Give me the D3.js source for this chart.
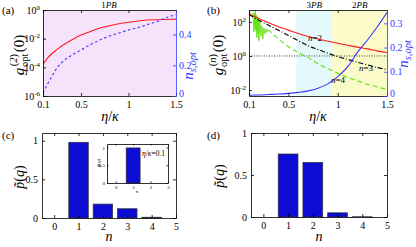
<!DOCTYPE html>
<html>
<head>
<meta charset="utf-8">
<script src="https://cdn.jsdelivr.net/npm/d3@7"></script>
<style>
body { margin: 0; background: #fff; }
svg { display: block; font-family: "Liberation Serif", "Times New Roman", serif; }
</style>
</head>
<body>
<script>
// ---- data ----
// panel (a)
var etaA = [0.1, 0.15, 0.2, 0.25, 0.3, 0.4, 0.5, 0.6, 0.7, 0.8, 0.9, 1.0, 1.1, 1.2, 1.3, 1.4, 1.5];
var g2A = [1.6e-4, 4.5e-4, 1e-3, 1.8e-3, 3.2e-3, 8e-3, 1.8e-2, 3.2e-2, 5.6e-2, 7.9e-2, 0.11, 0.14, 0.17, 0.2, 0.21, 0.22, 0.23];
var nsA = [0.02, 0.08, 0.135, 0.185, 0.22, 0.265, 0.30, 0.335, 0.365, 0.39, 0.41, 0.43, 0.445, 0.465, 0.485, 0.51, 0.53];

// panel (b)
var etaB = [0.1, 0.2, 0.3, 0.4, 0.5, 0.6, 0.7, 0.8, 0.9, 1.0, 1.1, 1.2, 1.3, 1.4, 1.5];
var g2B = [316, 158, 89, 52, 33, 21, 14, 10, 7.4, 5.6, 4.3, 3.3, 2.6, 2.0, 1.6];
var g3B = [282, 126, 63, 32, 16, 7.9, 4.0, 2.4, 1.45, 0.93, 0.63, 0.43, 0.30, 0.21, 0.16];
var nsB = [0.003, 0.004, 0.006, 0.008, 0.011, 0.015, 0.021, 0.032, 0.05, 0.08, 0.12, 0.18, 0.23, 0.285, 0.345];
// n=4: noisy numerics at small eta, then smooth
var etaG4 = [0.14, 0.15, 0.155, 0.16, 0.165, 0.17, 0.175, 0.18, 0.185, 0.19, 0.195, 0.2, 0.21, 0.22, 0.23, 0.24, 0.25, 0.26, 0.27, 0.28, 0.29];
var g4Noise = [400, 25, 320, 40, 500, 30, 250, 12, 200, 20, 160, 8, 120, 15, 60, 10, 45, 20, 40, 25, 35];
var etaG4s = [0.29, 0.35, 0.4, 0.5, 0.6, 0.7, 0.8, 0.9, 1.0, 1.1, 1.2, 1.3, 1.4, 1.5];
var g4B = [35, 17.8, 10, 3.5, 1.6, 0.8, 0.35, 0.18, 0.1, 0.056, 0.035, 0.022, 0.015, 0.011];
var regions = [
	{ from: 0.58, to: 0.945, name: '3', color: '#e4fafa' },
	{ from: 0.945, to: 1.5, name: '2', color: '#fbfbca' }
];

// panels (c), (d)
var nVals = [0, 1, 2, 3, 4];
var pC = [0, 0.98, 0.18, 0.12, 0.01];
var pD = [0, 0.75, 0.65, 0.05, 0.003];
var nInset = [0, 1, 2, 3];
var pInset = [0, 0.99, 0, 0];

var W = 416, H = 247;
var BLUE = '#3535ff', RED = '#ff1a1a', GREEN = '#62e010';

var svg = d3.select('body').append('svg').attr('width', W).attr('height', H);
var defs = svg.append('defs');

function logLabel(sel) {
	sel.each(function(d) {
		var t = d3.select(this);
		t.text('');
		var e = Math.round(Math.log10(d));
		t.append('tspan').text('10');
		t.append('tspan').attr('dy', -4).attr('font-size', 7).text(e < 0 ? '-' + (-e) : e);
	});
}

function fixAxis(a, size) {
	a.attr('font-family', null).attr('font-size', size);
}

// MATLAB-like box with inward ticks
function frame(g, x, y, o) {
	var x0 = x.range()[0], x1 = x.range()[1], y0 = y.range()[0], y1 = y.range()[1];
	var ts = o.ts || 3, fs = o.fs || 10;
	var b = g.append('g').attr('transform', `translate(0,${y0})`)
		.call(d3.axisBottom(x).tickValues(o.xt).tickSizeInner(-ts).tickSizeOuter(0).tickPadding(o.xp || 4).tickFormat(o.xf));
	fixAxis(b, fs);
	var t = g.append('g').attr('transform', `translate(0,${y1})`)
		.call(d3.axisTop(x).tickValues(o.xt).tickSizeInner(-ts).tickSizeOuter(0).tickFormat(''));
	var l = g.append('g').attr('transform', `translate(${x0},0)`)
		.call(d3.axisLeft(y).tickValues(o.yt).tickSizeInner(-ts).tickSizeOuter(0).tickPadding(o.yp || 3).tickFormat(o.yf));
	fixAxis(l, fs);
	if (o.log) l.selectAll('.tick text').call(logLabel);
	var r;
	if (o.yR) {
		r = g.append('g').attr('transform', `translate(${x1},0)`)
			.call(d3.axisRight(o.yR).tickValues(o.yRt).tickSizeInner(-ts).tickSizeOuter(0).tickPadding(3).tickFormat(d3.format('')))
			.attr('color', BLUE);
		fixAxis(r, fs);
		// lift the zero label a bit, it sits right next to the last x label
		r.selectAll('.tick text').filter(function(d) { return d === 0; }).attr('dy', '0.05em');
	} else {
		r = g.append('g').attr('transform', `translate(${x1},0)`)
			.call(d3.axisRight(y).tickValues(o.yt).tickSizeInner(-ts).tickSizeOuter(0).tickFormat(''));
	}
	[b, t, l, r].forEach(function(a) { a.selectAll('line, path').attr('stroke-width', 0.8); });
}

function clip(id, x, y) {
	defs.append('clipPath').attr('id', id).append('rect')
		.attr('x', x.range()[0]).attr('y', y.range()[1])
		.attr('width', x.range()[1] - x.range()[0]).attr('height', y.range()[0] - y.range()[1]);
	return `url(#${id})`;
}

function panelLabel(x, y, s) {
	svg.append('text').attr('x', x).attr('y', y).attr('font-size', 11).text(s);
}

// y label g^{(k)}_{opt}(0), rotated
function gLabel(x, y, k) {
	var t = svg.append('text').attr('transform', `translate(${x},${y}) rotate(-90)`)
		.attr('text-anchor', 'middle').attr('font-size', 15);
	t.append('tspan').attr('font-style', 'italic').text('g');
	var sup = t.append('tspan').attr('font-size', 10.5).attr('dy', -7).attr('dx', 1.5);
	sup.append('tspan').text('(');
	sup.append('tspan').attr('font-style', 'italic').text(k);
	sup.append('tspan').text(')');
	t.append('tspan').attr('font-size', 10.5).attr('dy', 11).attr('dx', -13).text('opt');
	t.append('tspan').attr('dy', -4).attr('dx', 1.5).text('(0)');
}

function nsLabel(x, y) {
	var t = svg.append('text').attr('transform', `translate(${x},${y}) rotate(-90)`)
		.attr('text-anchor', 'middle').attr('font-size', 15).attr('fill', BLUE);
	t.append('tspan').attr('font-style', 'italic').text('n');
	t.append('tspan').attr('font-size', 10.5).attr('dy', 3).attr('font-style', 'italic').text('s');
	t.append('tspan').attr('font-size', 10.5).text(',');
	t.append('tspan').attr('font-size', 10.5).attr('font-style', 'italic').text('opt');
}

function etaLabel(x, y) {
	var t = svg.append('text').attr('x', x).attr('y', y).attr('text-anchor', 'middle')
		.attr('font-size', 14).attr('font-style', 'italic');
	t.append('tspan').text('η');
	t.append('tspan').attr('font-style', 'normal').text('/');
	t.append('tspan').text('κ');
}

function pbLabel(x, y, k) {
	var t = svg.append('text').attr('x', x).attr('y', y).attr('text-anchor', 'middle').attr('font-size', 9);
	t.append('tspan').text(k);
	t.append('tspan').attr('font-style', 'italic').text('PB');
}

var xTicks = [0.1, 0.5, 1, 1.5];

// ================= panel (a) =================
var xa = d3.scaleLinear().domain([0.1, 1.5]).range([43, 176]);
var ya = d3.scaleLog().domain([1e-6, 1]).range([96, 10]);
var yaR = d3.scaleLinear().domain([0, 0.56]).range([96, 10]);
var ga = svg.append('g');
ga.append('rect').attr('x', 43).attr('y', 10).attr('width', 133).attr('height', 86).attr('fill', '#f6e2fa');
var ca = ga.append('g').attr('clip-path', clip('clipA', xa, ya));
ca.append('path').datum(etaA.map(function(e, i) { return [e, g2A[i]]; }))
	.attr('fill', 'none').attr('stroke', RED).attr('stroke-width', 1.1)
	.attr('d', d3.line().x(function(d) { return xa(d[0]); }).y(function(d) { return ya(d[1]); }).curve(d3.curveMonotoneX));
ca.append('path').datum(etaA.map(function(e, i) { return [e, nsA[i]]; }))
	.attr('fill', 'none').attr('stroke', BLUE).attr('stroke-width', 1.1).attr('stroke-dasharray', '2.5,2.5')
	.attr('d', d3.line().x(function(d) { return xa(d[0]); }).y(function(d) { return yaR(d[1]); }).curve(d3.curveMonotoneX));
frame(ga, xa, ya, { xt: xTicks, xf: d3.format(''), yt: [1e-6, 1e-4, 1e-2, 1], log: true, yR: yaR, yRt: [0, 0.2, 0.4], xp: 5 });
panelLabel(2, 14, '(a)');
pbLabel(109, 8, '1');
gLabel(24, 55, '2');
nsLabel(193, 66);
etaLabel(110, 121);

// ================= panel (b) =================
var xb = d3.scaleLinear().domain([0.1, 1.5]).range([249, 387]);
var yb = d3.scaleLog().domain([Math.pow(10, -2.35), Math.pow(10, 2.7)]).range([96, 10]);
var ybR = d3.scaleLinear().domain([0, 0.355]).range([96, 10]);
var gb = svg.append('g');
gb.selectAll('.region').data(regions).enter().append('rect')
	.attr('x', function(d) { return xb(d.from); }).attr('y', 10)
	.attr('width', function(d) { return xb(d.to) - xb(d.from); }).attr('height', 86)
	.attr('fill', function(d) { return d.color; });
regions.forEach(function(d) { pbLabel(xb((d.from + d.to) / 2), 8, d.name); });
var cb = gb.append('g').attr('clip-path', clip('clipB', xb, yb));
cb.append('line').attr('x1', xb(0.1)).attr('x2', xb(1.5)).attr('y1', yb(1)).attr('y2', yb(1))
	.attr('stroke', '#000').attr('stroke-width', 0.8).attr('stroke-dasharray', '1,1.5');
var lineB = d3.line().x(function(d) { return xb(d[0]); }).y(function(d) { return yb(d[1]); });
cb.append('path').datum(etaG4.map(function(e, i) { return [e, g4Noise[i]]; }))
	.attr('fill', 'none').attr('stroke', GREEN).attr('stroke-width', 0.9).attr('d', lineB);
cb.append('path').datum(etaG4s.map(function(e, i) { return [e, g4B[i]]; }))
	.attr('fill', 'none').attr('stroke', GREEN).attr('stroke-width', 1.1).attr('stroke-dasharray', '5,3')
	.attr('d', lineB.curve(d3.curveMonotoneX));
cb.append('path').datum(etaB.map(function(e, i) { return [e, g3B[i]]; }))
	.attr('fill', 'none').attr('stroke', '#000').attr('stroke-width', 1.1).attr('stroke-dasharray', '5,2,1,2')
	.attr('d', lineB.curve(d3.curveMonotoneX));
cb.append('path').datum(etaB.map(function(e, i) { return [e, g2B[i]]; }))
	.attr('fill', 'none').attr('stroke', RED).attr('stroke-width', 1.1)
	.attr('d', lineB.curve(d3.curveMonotoneX));
cb.append('path').datum(etaB.map(function(e, i) { return [e, nsB[i]]; }))
	.attr('fill', 'none').attr('stroke', BLUE).attr('stroke-width', 1.1)
	.attr('d', d3.line().x(function(d) { return xb(d[0]); }).y(function(d) { return ybR(d[1]); }).curve(d3.curveMonotoneX));
frame(gb, xb, yb, { xt: xTicks, xf: d3.format(''), yt: [1e-2, 1, 1e2], log: true, yR: ybR, yRt: [0, 0.1, 0.2, 0.3], xp: 5 });
[['2', 315, 41], ['3', 366, 71], ['4', 338, 83]].forEach(function(d) {
	var t = svg.append('text').attr('x', d[1]).attr('y', d[2]).attr('text-anchor', 'middle').attr('font-size', 9);
	t.append('tspan').attr('font-style', 'italic').text('n');
	t.append('tspan').text('=' + d[0]);
});
panelLabel(207, 14, '(b)');
gLabel(223, 55, 'n');
nsLabel(408, 54);
etaLabel(318, 121);

// ================= bars =================
function pLabel(x, y, fs) {
	var t = svg.append('text').attr('transform', `translate(${x},${y}) rotate(-90)`)
		.attr('text-anchor', 'middle').attr('font-size', fs).attr('font-style', 'italic');
	t.append('tspan').text('p̃');
	t.append('tspan').attr('font-style', 'normal').text('(');
	t.append('tspan').text('q');
	t.append('tspan').attr('font-style', 'normal').text(')');
}

function barPanel(g, x, y, ns, ps) {
	g.selectAll('.bar').data(ns).enter().append('rect')
		.attr('x', function(d) { return x(d - 0.4); })
		.attr('width', function() { return x(0.8) - x(0); })
		.attr('y', function(d, i) { return y(ps[i]); })
		.attr('height', function(d, i) { return y(0) - y(ps[i]); })
		.attr('fill', '#0c0cd2').attr('stroke', '#333').attr('stroke-width', 0.7);
}

// panel (c)
var xc = d3.scaleLinear().domain([-0.5, 5]).range([42, 176]);
var yc = d3.scaleLinear().domain([0, 1.1]).range([218, 133]);
var gc = svg.append('g');
barPanel(gc, xc, yc, nVals, pC);
frame(gc, xc, yc, { xt: [0, 1, 2, 3, 4, 5], xf: d3.format(''), yt: [0, 0.5, 1], yf: d3.format(''), xp: 5, yp: 4 });
panelLabel(2, 139, '(c)');
pLabel(24, 177, 14);
svg.append('text').attr('x', 109).attr('y', 241).attr('text-anchor', 'middle')
	.attr('font-size', 14).attr('font-style', 'italic').text('n');

// inset
var xi = d3.scaleLinear().domain([-0.5, 3]).range([107, 168]);
var yi = d3.scaleLinear().domain([0, 1.1]).range([183, 144]);
var gi = svg.append('g');
gi.append('rect').attr('x', 107).attr('y', 144).attr('width', 61).attr('height', 39).attr('fill', '#fff');
barPanel(gi, xi, yi, nInset, pInset);
frame(gi, xi, yi, { xt: [0, 1, 2, 3], xf: d3.format(''), yt: [0, 0.5, 1], yf: d3.format(''), ts: 1.5, fs: 5, xp: 2, yp: 2 });
var ti = svg.append('text').attr('x', 142).attr('y', 156).attr('font-size', 7.5);
ti.append('tspan').attr('font-style', 'italic').text('η');
ti.append('tspan').text('/');
ti.append('tspan').attr('font-style', 'italic').text('κ');
ti.append('tspan').text('=0.1');
pLabel(100, 163, 5);
svg.append('text').attr('x', 137).attr('y', 193).attr('text-anchor', 'middle')
	.attr('font-size', 5).attr('font-style', 'italic').text('n');

// panel (d)
var xd = d3.scaleLinear().domain([-0.5, 5]).range([251, 387]);
var yd = d3.scaleLinear().domain([0, 1]).range([217, 133]);
var gd = svg.append('g');
barPanel(gd, xd, yd, nVals, pD);
frame(gd, xd, yd, { xt: [0, 1, 2, 3, 4, 5], xf: d3.format(''), yt: [0, 0.5, 1], yf: d3.format(''), xp: 5, yp: 4 });
panelLabel(207, 139, '(d)');
pLabel(224, 176, 14);
svg.append('text').attr('x', 319).attr('y', 241).attr('text-anchor', 'middle')
	.attr('font-size', 14).attr('font-style', 'italic').text('n');
</script>
</body>
</html>
